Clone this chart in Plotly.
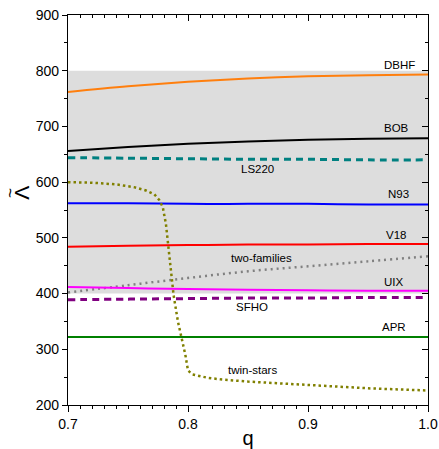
import plotly.graph_objects as go

q_grid = [0.70, 0.75, 0.80, 0.85, 0.90, 0.95, 1.00]
dbhf = [762, 772, 780, 786, 790, 792, 793]
bob = [656, 663, 669, 673, 676, 678, 679]
ls220 = [644, 643, 642, 641, 641, 640, 640]
n93 = [562, 562, 561, 561, 561, 560, 560]
v18 = [484, 486, 487, 488, 488, 489, 489]
two_families = [402, 415, 428, 440, 449, 458, 467]
uix = [412, 410, 408, 407, 406, 405, 405]
sfho = [389, 390, 391, 392, 392, 393, 393]
apr = [322, 322, 322, 322, 322, 322, 322]

q_twin = [0.70, 0.72, 0.74, 0.755, 0.765, 0.772, 0.776, 0.779, 0.7816, 0.7836,
          0.788, 0.7916, 0.795, 0.7978, 0.800, 0.8035, 0.816, 0.827, 0.85, 0.90, 0.95, 1.00]
twin_stars = [600, 599, 596, 591, 585, 578, 568, 555, 525, 487,
              397, 350, 320, 290, 262, 255, 249, 246, 242, 236, 230, 226]

band_q = [0.7, 1.0]
band_lambda = [400, 800]

label_text = ["DBHF", "BOB", "LS220", "N93", "V18", "two-families", "UIX", "SFHO", "APR", "twin-stars"]
label_q = [0.976, 0.974, 0.858, 0.975, 0.973, 0.861, 0.972, 0.853, 0.972, 0.854]
label_y = [810, 698, 624, 578, 505, 463, 420, 376, 340, 262]

fig = go.Figure()

fig.add_shape(type="rect", xref="x", yref="y", x0=band_q[0], x1=band_q[1],
              y0=band_lambda[0], y1=band_lambda[1], fillcolor="#dddddd",
              line_width=0, layer="below")

series = [
    (dbhf, "#ff7f0e", "solid", 2),
    (bob, "black", "solid", 2),
    (ls220, "#008080", "7px,5px", 3),
    (n93, "#0000ff", "solid", 2),
    (v18, "#ff0000", "solid", 2),
    (two_families, "#808080", "2px,4px", 2.5),
    (uix, "#ff00ff", "solid", 2),
    (sfho, "#800080", "7px,5px", 3),
    (apr, "#008000", "solid", 2),
]
for ys, col, dash, w in series:
    fig.add_trace(go.Scatter(x=q_grid, y=ys, mode="lines", line=dict(color=col, dash=dash, width=w, shape="spline"),
                             showlegend=False, hoverinfo="skip"))

fig.add_trace(go.Scatter(x=q_twin, y=twin_stars, mode="lines",
                         line=dict(color="#808000", dash="2.5px,3px", width=2.5),
                         showlegend=False, hoverinfo="skip"))

# invisible trace to attach mirrored axes
fig.add_trace(go.Scatter(x=[0.7], y=[200], xaxis="x2", yaxis="y2", mode="markers",
                         marker=dict(opacity=0), showlegend=False, hoverinfo="skip"))

for t, xq, yv in zip(label_text, label_q, label_y):
    fig.add_annotation(x=xq, y=yv, text=t, showarrow=False,
                       font=dict(family="Liberation Sans, Arial", size=11.5, color="black"))

# y-axis title (Lambda with tilde above), rotated
fig.add_annotation(xref="paper", yref="paper", x=-0.128, y=0.544, text="Λ", textangle=-90,
                   showarrow=False, xanchor="center", yanchor="middle",
                   font=dict(family="Liberation Sans, Arial", size=21, color="black"))
fig.add_annotation(xref="paper", yref="paper", x=-0.158, y=0.544, text="~", textangle=-90,
                   showarrow=False, xanchor="center", yanchor="middle",
                   font=dict(family="Liberation Sans, Arial", size=17, color="black"))

font_main = dict(family="Liberation Sans, Arial", size=14, color="black")

fig.update_layout(
    width=439, height=449,
    margin=dict(l=68, r=11, t=15, b=44),
    plot_bgcolor="white", paper_bgcolor="white",
    font=font_main,
    xaxis=dict(range=[0.7, 1.0], dtick=0.1, tick0=0.7, tickformat=".1f", automargin=False,
               ticks="outside", ticklen=6, tickwidth=1.2, tickcolor="black",
               minor=dict(dtick=0.01, ticks="outside", ticklen=3, tickwidth=1, tickcolor="black", showgrid=False),
               showline=True, linecolor="black", linewidth=1.3, mirror=False,
               showgrid=False, zeroline=False,
               title=dict(text="q", font=dict(family="Liberation Sans, Arial", size=20), standoff=2)),
    yaxis=dict(range=[200, 900], dtick=100, tick0=200, automargin=False,
               ticks="outside", ticklen=5, tickwidth=1.2, tickcolor="black",
               minor=dict(dtick=50, ticks="outside", ticklen=3, tickwidth=1, tickcolor="black", showgrid=False),
               showline=True, linecolor="black", linewidth=1.3, mirror=False,
               showgrid=False, zeroline=False),
    xaxis2=dict(range=[0.7, 1.0], overlaying="x", side="top", anchor="y2", automargin=False,
                dtick=0.1, tick0=0.7, ticks="inside", ticklen=6, tickwidth=1.2, tickcolor="black",
                minor=dict(dtick=0.01, ticks="inside", ticklen=3, tickwidth=1, tickcolor="black", showgrid=False),
                showticklabels=False, showline=True, linecolor="black", linewidth=1.3,
                showgrid=False, zeroline=False),
    yaxis2=dict(range=[200, 900], overlaying="y", side="right", anchor="x2", automargin=False,
                dtick=100, tick0=200, ticks="inside", ticklen=6, tickwidth=1.2, tickcolor="black",
                minor=dict(dtick=50, ticks="inside", ticklen=3, tickwidth=1, tickcolor="black", showgrid=False),
                showticklabels=False, showline=True, linecolor="black", linewidth=1.3,
                showgrid=False, zeroline=False),
)

fig.write_html("out.html")
